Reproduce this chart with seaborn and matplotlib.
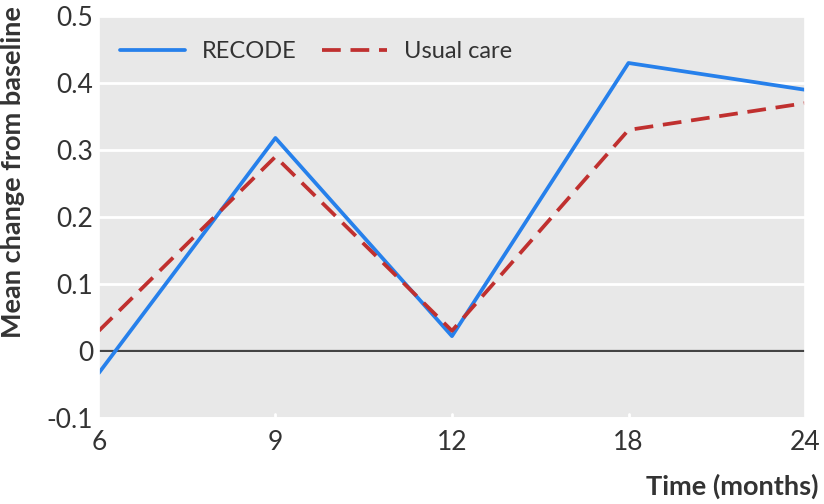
import pandas as pd
import matplotlib.pyplot as plt
import seaborn as sns
from matplotlib.ticker import FuncFormatter

months = ["6", "9", "12", "18", "24"]
recode = [-0.033, 0.318, 0.022, 0.43, 0.39]
usual_care = [0.03, 0.29, 0.03, 0.33, 0.37]

df = pd.DataFrame({
    "month": months * 2,
    "change": recode + usual_care,
    "group": ["RECODE"] * 5 + ["Usual care"] * 5,
})

sns.set_theme(style="darkgrid", rc={"axes.facecolor": "#e8e8e8"})
plt.rcParams["font.family"] = ["Lato", "DejaVu Sans"]

fig = plt.figure(figsize=(8.24, 5.04), dpi=100)
ax = fig.add_axes([0.120, 0.171, 0.857, 0.797])

palette = {"RECODE": "#2680eb", "Usual care": "#c0302f"}
sns.lineplot(data=df, x="month", y="change", hue="group", style="group",
             palette=palette, dashes={"RECODE": "", "Usual care": (5.0, 2.6)},
             linewidth=2.7, sort=False, ax=ax)

ax.axhline(0, color="#444444", linewidth=1.6, zorder=1.5)
ax.set_ylim(-0.1, 0.5)
ax.set_xlim(0, len(months) - 1)
ax.set_yticks([-0.1, 0, 0.1, 0.2, 0.3, 0.4, 0.5])
ax.yaxis.set_major_formatter(FuncFormatter(lambda v, p: "0" if abs(v) < 1e-9 else f"{v:.1f}"))
ax.grid(axis="x", visible=False)
ax.grid(axis="y", color="white", linewidth=2)
ax.tick_params(axis="both", labelsize=19, colors="#333333", length=0, pad=4)
ax.tick_params(axis="x", pad=9)
for x in range(1, len(months) - 1):
    ax.plot([x, x], [-0.1, -0.094], color="white", linewidth=2, clip_on=False)

ax.set_xlabel("")
ax.set_ylabel("Mean change from baseline", fontsize=19.5, fontweight="bold", color="#333333")
ax.yaxis.set_label_coords(-0.105, 0.612)
fig.text(0.993, 0.035, "Time (months)", ha="right", va="center", fontsize=19.5,
         fontweight="bold", color="#333333")

leg = ax.legend(loc="upper left", ncol=2, frameon=False, fontsize=17,
                handlelength=2.75, handletextpad=0.7, columnspacing=1.1,
                bbox_to_anchor=(0.0, 0.99))
for t in leg.get_texts():
    t.set_color("#333333")

fig.savefig("out.png", dpi=100)
